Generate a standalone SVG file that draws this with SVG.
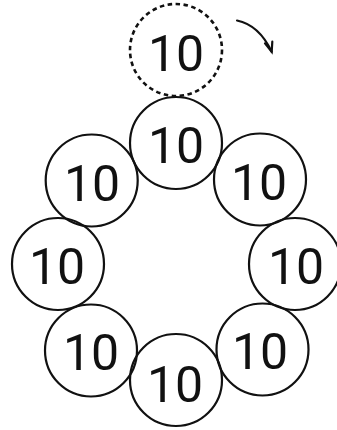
<svg xmlns="http://www.w3.org/2000/svg" width="337" height="430" viewBox="0 0 337 430">
<style>
.c{fill:none;stroke:#111;stroke-width:2.2}
.d{fill:none;stroke:#111;stroke-width:2.6;stroke-dasharray:4.5 3.5}
.t{font-family:Roboto,"Liberation Sans",sans-serif;font-size:50px;font-weight:400;fill:#111;text-anchor:middle}
.a{fill:none;stroke:#111;stroke-width:2.2;stroke-linecap:round}
</style>
<rect width="337" height="430" fill="#fff"/>
<g id="n0"><circle class="d" cx="176" cy="50" r="46"/><text class="t" x="176" y="70.5">10</text></g>
<g id="n1"><circle class="c" cx="176" cy="143" r="46"/><text class="t" x="176" y="162.5">10</text></g>
<g id="n2"><circle class="c" cx="260" cy="179.5" r="46"/><text class="t" x="259" y="200">10</text></g>
<g id="n3"><circle class="c" cx="295" cy="264" r="46"/><text class="t" x="296" y="284">10</text></g>
<g id="n4"><circle class="c" cx="262.5" cy="349.5" r="46"/><text class="t" x="260" y="369">10</text></g>
<g id="n5"><circle class="c" cx="176" cy="380" r="46"/><text class="t" x="175" y="401.5">10</text></g>
<g id="n6"><circle class="c" cx="91" cy="350.5" r="46"/><text class="t" x="91" y="370">10</text></g>
<g id="n7"><circle class="c" cx="58" cy="264" r="46"/><text class="t" x="57" y="284">10</text></g>
<g id="n8"><circle class="c" cx="91.7" cy="180.5" r="46"/><text class="t" x="92" y="201">10</text></g>
<g id="connectors">
<path class="a" d="M237 20.5 Q259 25 271.7 51.7"/>
<path class="a" d="M265 43.3 L271.7 51.7 L272.3 41.7"/>
</g>
</svg>
